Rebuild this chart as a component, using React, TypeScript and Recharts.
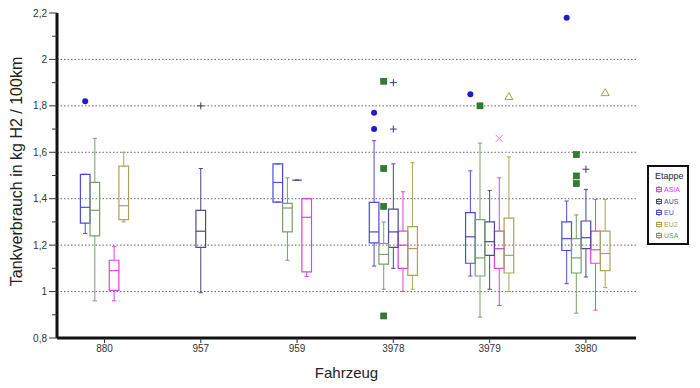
import React from 'react';
import {
  ComposedChart,
  XAxis,
  YAxis,
  CartesianGrid,
  ReferenceArea,
  ReferenceLine,
  Scatter,
  Label,
} from 'recharts';

const vehicles = ['880', '957', '959', '3978', '3979', '3980'];
const yTicks = [0.8, 0.9, 1, 1.1, 1.2, 1.3, 1.4, 1.5, 1.6, 1.7, 1.8, 1.9, 2, 2.1, 2.2];
const gridLines = [1, 1.2, 1.4, 1.6, 1.8, 2];

// [min, q1, median, q3, max] per vehicle, null = no trips
const asiaBoxes = [
  [0.96, 1.005, 1.09, 1.135, 1.195],
  null,
  [1.065, 1.085, 1.32, 1.4, 1.4],
  [1.0, 1.1, 1.2, 1.26, 1.43],
  [0.94, 1.1, 1.185, 1.26, 1.49],
  [0.92, 1.122, 1.18, 1.26, 1.397],
];
const ausBoxes = [
  null,
  [0.995, 1.19, 1.26, 1.35, 1.53],
  [1.48, 1.48, 1.48, 1.48, 1.48],
  [1.1, 1.19, 1.257, 1.355, 1.55],
  [1.01, 1.156, 1.215, 1.3, 1.435],
  [1.063, 1.185, 1.232, 1.304, 1.44],
];
const euBoxes = [
  [1.25, 1.295, 1.363, 1.505, 1.505],
  null,
  [1.385, 1.385, 1.47, 1.55, 1.55],
  [1.11, 1.21, 1.257, 1.384, 1.65],
  [1.067, 1.122, 1.236, 1.34, 1.52],
  [1.034, 1.177, 1.228, 1.3, 1.39],
];
const eu2Boxes = [
  [1.3, 1.31, 1.37, 1.54, 1.6],
  null,
  null,
  [1.01, 1.07, 1.185, 1.28, 1.555],
  [1.0, 1.08, 1.156, 1.316, 1.58],
  [1.017, 1.09, 1.164, 1.26, 1.397],
];
const usaBoxes = [
  [0.96, 1.24, 1.35, 1.47, 1.66],
  null,
  [1.135, 1.257, 1.36, 1.38, 1.49],
  [1.01, 1.118, 1.16, 1.207, 1.3],
  [0.89, 1.067, 1.145, 1.31, 1.64],
  [0.907, 1.08, 1.145, 1.228, 1.33],
];

// outliers per vehicle
const asiaOutliers = [[], [], [], [], [1.66], []];
const ausOutliers = [[], [1.8], [], [1.9, 1.7], [], [1.527]];
const euOutliers = [[1.82], [], [], [1.77, 1.7], [1.85], [2.18]];
const eu2Outliers = [[], [], [], [], [1.84], [1.857]];
const usaOutliers = [[], [], [], [1.906, 1.53, 1.367, 0.895], [1.8], [1.59, 1.498, 1.465]];

const FONT = '"Liberation Sans", Arial, sans-serif';
const HALF = 0.05;
const CAP = 0.022;

const dot = (p: any) => <circle cx={p.cx} cy={p.cy} r={3} fill="#1c1cc8" />;
const square = (p: any) => (
  <rect x={p.cx - 3} y={p.cy - 3} width={6} height={6} fill="#2f7f2f" stroke="#1f5a1f" strokeWidth={0.6} />
);
const plus = (p: any) => (
  <path d={`M${p.cx - 3.5},${p.cy}h7M${p.cx},${p.cy - 3.5}v7`} stroke="#3a3a70" strokeWidth={1} />
);
const cross = (p: any) => (
  <path d={`M${p.cx - 3.5},${p.cy - 3.5}l7,7M${p.cx - 3.5},${p.cy + 3.5}l7,-7`} stroke="#f070f0" strokeWidth={1} />
);
const triangle = (p: any) => (
  <path d={`M${p.cx},${p.cy - 4}L${p.cx + 4},${p.cy + 3}L${p.cx - 4},${p.cy + 3}Z`} fill="none" stroke="#a8a040" strokeWidth={1} />
);

const stages = [
  { name: 'ASIA', color: '#e040e0', slot: 0.1, boxes: asiaBoxes, outliers: asiaOutliers, shape: cross },
  { name: 'AUS', color: '#4a4a8c', slot: 0, boxes: ausBoxes, outliers: ausOutliers, shape: plus },
  { name: 'EU', color: '#4b4bdc', slot: -0.2, boxes: euBoxes, outliers: euOutliers, shape: dot },
  { name: 'EU2', color: '#aaa455', slot: 0.2, boxes: eu2Boxes, outliers: eu2Outliers, shape: triangle },
  { name: 'USA', color: '#76a068', slot: -0.1, boxes: usaBoxes, outliers: usaOutliers, shape: square },
];

function renderBoxes(stage: any) {
  return stage.boxes.map((b: number[] | null, i: number) => {
    if (!b) return null;
    const [min, q1, med, q3, max] = b;
    const x = i + stage.slot;
    const k = `${stage.name}-${i}`;
    const c = stage.color;
    return [
      <ReferenceLine key={k + 'wl'} segment={[{ x, y: min }, { x, y: q1 }]} stroke={c} strokeWidth={1} />,
      <ReferenceLine key={k + 'wh'} segment={[{ x, y: q3 }, { x, y: max }]} stroke={c} strokeWidth={1} />,
      <ReferenceLine key={k + 'cl'} segment={[{ x: x - CAP, y: min }, { x: x + CAP, y: min }]} stroke={c} strokeWidth={1} />,
      <ReferenceLine key={k + 'ch'} segment={[{ x: x - CAP, y: max }, { x: x + CAP, y: max }]} stroke={c} strokeWidth={1} />,
      <ReferenceArea key={k + 'b'} x1={x - HALF} x2={x + HALF} y1={q1} y2={q3} fill="none" fillOpacity={0} stroke={c} strokeWidth={1.2} />,
      <ReferenceLine key={k + 'm'} segment={[{ x: x - HALF, y: med }, { x: x + HALF, y: med }]} stroke={c} strokeWidth={1.2} />,
    ];
  });
}

function outlierData(stage: any) {
  return stage.outliers.flatMap((vals: number[], i: number) => vals.map((v) => ({ x: i + stage.slot, y: v })));
}

const isMajor = (v: number) => Math.round(v * 10) % 2 === 0;

// major ticks longer than the minor ones
function YTick(props: any) {
  const { x, y, payload } = props;
  const major = isMajor(payload.value);
  const ax = x + 9;
  return (
    <g>
      <line x1={ax - (major ? 8 : 5)} x2={ax} y1={y} y2={y} stroke="#333" />
      {major && (
        <text x={ax - 10} y={y} dy={3.5} textAnchor="end" fontSize={10} fill="#333" fontFamily={FONT}>
          {String(+payload.value.toFixed(1)).replace('.', ',')}
        </text>
      )}
    </g>
  );
}

function LegendIcon({ color }: { color: string }) {
  return (
    <svg width={8} height={7} style={{ marginRight: 1 }}>
      <rect x={1.5} y={1.5} width={5} height={4} fill="none" stroke={color} strokeWidth={1} />
      <line x1={1.5} x2={6.5} y1={3.5} y2={3.5} stroke={color} strokeWidth={1} />
      <line x1={4} x2={4} y1={0} y2={1.5} stroke={color} />
      <line x1={4} x2={4} y1={5.5} y2={7} stroke={color} />
    </svg>
  );
}

function StageLegend() {
  return (
    <div
      style={{
        position: 'absolute',
        left: 647,
        top: 165,
        width: 42,
        height: 80,
        boxSizing: 'border-box',
        border: '2px solid #111',
        background: '#fff',
        fontFamily: FONT,
        padding: '4px 0 0 6px',
      }}
    >
      <div style={{ fontSize: 9, color: '#222', marginBottom: 3 }}>Etappe</div>
      {stages.map((s) => (
        <div key={s.name} style={{ display: 'flex', alignItems: 'center', height: 11.5, fontSize: 7, color: s.color }}>
          <LegendIcon color={s.color} />
          {s.name}
        </div>
      ))}
    </div>
  );
}

export default function App() {
  return (
    <div style={{ position: 'absolute', left: 0, top: 0, width: 700, height: 388, background: '#fff' }}>
      <ComposedChart width={700} height={388} margin={{ top: 13, right: 64, bottom: 0, left: 0 }}>
        <CartesianGrid vertical={false} horizontalValues={gridLines} stroke="#666" strokeDasharray="1.5 2" />
        <XAxis
          dataKey="x"
          type="number"
          domain={[-0.493, 5.52]}
          allowDataOverflow
          ticks={[0, 1, 2, 3, 4, 5]}
          interval={0}
          tickFormatter={(i: number) => vehicles[i]}
          height={50}
          axisLine={{ stroke: '#111', strokeWidth: 3 }}
          tickLine={{ stroke: '#333' }}
          tickSize={5}
          tick={{ fontSize: 10, fill: '#333', fontFamily: FONT }}
        >
          <Label
            content={({ viewBox }: any) => (
              <text x={viewBox.x + viewBox.width / 2} y={viewBox.y + 40} textAnchor="middle" fontSize={15} fill="#222" fontFamily={FONT}>
                Fahrzeug
              </text>
            )}
          />
        </XAxis>
        <XAxis
          xAxisId="top"
          orientation="top"
          type="number"
          domain={[-0.493, 5.52]}
          allowDataOverflow
          height={0}
          tick={false}
          tickLine={false}
          axisLine={{ stroke: '#777' }}
        />
        <YAxis
          dataKey="y"
          type="number"
          domain={[0.8, 2.2]}
          allowDataOverflow
          ticks={yTicks}
          interval={0}
          width={57}
          axisLine={{ stroke: '#111', strokeWidth: 3 }}
          tickLine={false}
          tickSize={9}
          tickMargin={0}
          tick={<YTick />}
        >
          <Label
            content={({ viewBox }: any) => (
              <text
                transform={`translate(${viewBox.x + 22},${viewBox.y + viewBox.height / 2 - 4}) rotate(-90)`}
                textAnchor="middle"
                fontSize={16}
                fill="#222"
                fontFamily={FONT}
              >
                Tankverbrauch in kg H2 / 100km
              </text>
            )}
          />
        </YAxis>
        <YAxis
          yAxisId="right"
          orientation="right"
          type="number"
          domain={[0.8, 2.2]}
          width={0}
          tick={false}
          tickLine={false}
          axisLine={{ stroke: '#777' }}
        />
        {stages.map((s) => renderBoxes(s))}
        {stages.map((s) => (
          <Scatter key={s.name} name={s.name} data={outlierData(s)} shape={s.shape} isAnimationActive={false} />
        ))}
      </ComposedChart>
      <StageLegend />
    </div>
  );
}
